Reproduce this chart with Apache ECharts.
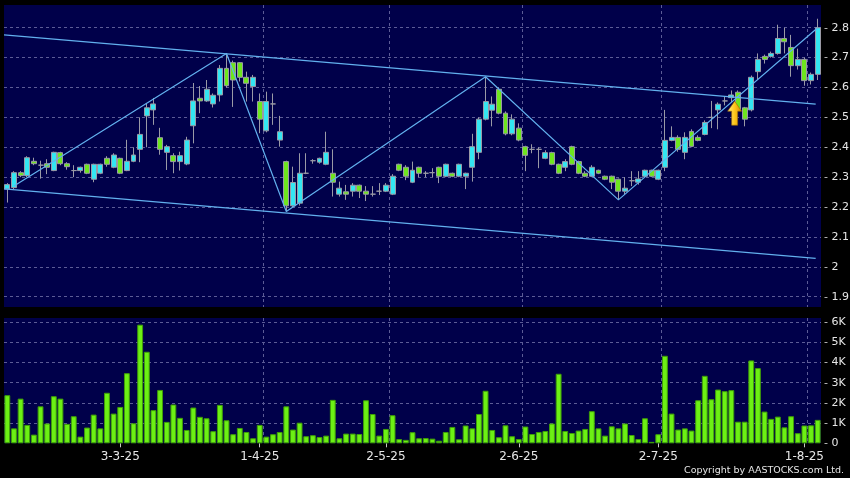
<!DOCTYPE html>
<html><head><meta charset="utf-8">
<script src="https://cdn.jsdelivr.net/npm/echarts@6/dist/echarts.min.js"></script>
<style>html,body{margin:0;padding:0;background:#000;}#c{width:850px;height:478px;}</style>
</head><body><div id="c"></div>
<script>
const categories = [
'6-2-25','7-2-25','10-2-25','11-2-25','12-2-25','13-2-25','14-2-25','17-2-25','18-2-25','19-2-25','20-2-25','21-2-25','24-2-25','25-2-25','26-2-25','27-2-25','28-2-25',
'3-3-25','4-3-25','5-3-25','6-3-25','7-3-25','10-3-25','11-3-25','12-3-25','13-3-25','14-3-25','17-3-25','18-3-25','19-3-25','20-3-25','21-3-25','24-3-25','25-3-25','26-3-25','27-3-25','28-3-25','31-3-25',
'1-4-25','2-4-25','3-4-25','7-4-25','8-4-25','9-4-25','10-4-25','11-4-25','14-4-25','15-4-25','16-4-25','17-4-25','22-4-25','23-4-25','24-4-25','25-4-25','28-4-25','29-4-25','30-4-25',
'2-5-25','6-5-25','7-5-25','8-5-25','9-5-25','12-5-25','13-5-25','14-5-25','15-5-25','16-5-25','19-5-25','20-5-25','21-5-25','22-5-25','23-5-25','26-5-25','27-5-25','28-5-25','29-5-25','30-5-25',
'2-6-25','3-6-25','4-6-25','5-6-25','6-6-25','9-6-25','10-6-25','11-6-25','12-6-25','13-6-25','16-6-25','17-6-25','18-6-25','19-6-25','20-6-25','23-6-25','24-6-25','25-6-25','26-6-25','27-6-25','30-6-25',
'2-7-25','3-7-25','4-7-25','7-7-25','8-7-25','9-7-25','10-7-25','11-7-25','14-7-25','15-7-25','16-7-25','17-7-25','18-7-25','21-7-25','22-7-25','23-7-25','24-7-25','25-7-25','28-7-25','29-7-25','30-7-25','31-7-25',
'1-8-25','4-8-25','5-8-25'];

// [open, close, low, high]
const candles = [
[2.26,2.275,2.215,2.28],[2.265,2.315,2.26,2.32],[2.315,2.305,2.30,2.32],[2.305,2.365,2.30,2.37],[2.353,2.345,2.34,2.365],
[2.34,2.34,2.295,2.355],[2.345,2.333,2.31,2.36],[2.322,2.383,2.32,2.385],[2.382,2.345,2.34,2.385],[2.345,2.335,2.325,2.35],
[2.322,2.322,2.30,2.34],[2.322,2.333,2.315,2.335],[2.343,2.313,2.31,2.345],[2.293,2.343,2.283,2.345],[2.313,2.343,2.31,2.345],
[2.363,2.343,2.335,2.37],[2.333,2.374,2.33,2.38],[2.363,2.313,2.31,2.365],[2.322,2.353,2.32,2.425],[2.353,2.374,2.35,2.40],
[2.393,2.443,2.35,2.50],[2.505,2.532,2.40,2.548],[2.525,2.545,2.475,2.565],[2.432,2.393,2.375,2.465],[2.383,2.402,2.324,2.408],
[2.372,2.352,2.313,2.38],[2.352,2.372,2.322,2.385],[2.344,2.424,2.34,2.435],[2.472,2.555,2.413,2.615],[2.564,2.555,2.514,2.605],
[2.555,2.594,2.552,2.625],[2.545,2.574,2.533,2.58],[2.575,2.664,2.553,2.675],[2.664,2.606,2.60,2.714],[2.683,2.625,2.535,2.69],
[2.683,2.634,2.62,2.685],[2.634,2.614,2.553,2.653],[2.603,2.634,2.553,2.642],[2.553,2.494,2.447,2.58],[2.455,2.553,2.45,2.586],
[2.545,2.545,2.475,2.58],[2.424,2.452,2.402,2.505],[2.352,2.204,2.185,2.355],[2.204,2.282,2.20,2.335],[2.213,2.313,2.205,2.38],
[2.313,2.313,2.31,2.38],[2.355,2.355,2.345,2.36],[2.350,2.363,2.345,2.365],[2.343,2.383,2.34,2.452],[2.313,2.283,2.235,2.393],
[2.243,2.263,2.235,2.285],[2.251,2.243,2.224,2.274],[2.253,2.273,2.235,2.28],[2.273,2.253,2.23,2.275],[2.253,2.243,2.22,2.27],
[2.243,2.243,2.235,2.27],[2.253,2.253,2.24,2.28],[2.253,2.273,2.25,2.28],[2.243,2.303,2.24,2.31],[2.343,2.323,2.32,2.345],
[2.333,2.303,2.29,2.34],[2.283,2.323,2.28,2.352],[2.333,2.313,2.30,2.335],[2.313,2.313,2.30,2.32],[2.315,2.315,2.30,2.33],
[2.333,2.303,2.28,2.335],[2.303,2.343,2.30,2.345],[2.313,2.303,2.30,2.315],[2.303,2.343,2.30,2.345],[2.303,2.313,2.26,2.315],
[2.333,2.402,2.285,2.445],[2.383,2.494,2.36,2.50],[2.494,2.553,2.49,2.636],[2.524,2.544,2.47,2.57],[2.594,2.514,2.51,2.60],
[2.514,2.445,2.44,2.52],[2.445,2.494,2.44,2.51],[2.464,2.424,2.42,2.48],[2.402,2.373,2.32,2.405],[2.393,2.393,2.38,2.41],
[2.393,2.393,2.33,2.40],[2.363,2.382,2.36,2.39],[2.382,2.343,2.34,2.385],[2.343,2.313,2.31,2.345],[2.333,2.352,2.32,2.36],
[2.402,2.343,2.34,2.405],[2.352,2.313,2.31,2.355],[2.313,2.303,2.30,2.32],[2.303,2.333,2.30,2.34],[2.323,2.313,2.31,2.325],
[2.303,2.293,2.29,2.305],[2.303,2.283,2.26,2.305],[2.293,2.253,2.224,2.295],[2.253,2.263,2.24,2.30],[2.288,2.288,2.27,2.32],
[2.283,2.294,2.275,2.32],[2.303,2.323,2.30,2.325],[2.323,2.303,2.30,2.325],[2.293,2.323,2.29,2.325],[2.333,2.423,2.32,2.525],
[2.423,2.433,2.42,2.47],[2.433,2.393,2.385,2.44],[2.383,2.433,2.36,2.45],[2.453,2.403,2.40,2.46],[2.433,2.423,2.42,2.44],
[2.443,2.483,2.44,2.49],[2.50,2.50,2.464,2.555],[2.525,2.544,2.46,2.55],[2.555,2.555,2.54,2.57],[2.566,2.575,2.55,2.59],
[2.584,2.525,2.52,2.59],[2.532,2.494,2.47,2.535],[2.525,2.634,2.52,2.64],[2.653,2.694,2.625,2.714],[2.704,2.694,2.68,2.71],
[2.704,2.714,2.70,2.72],[2.714,2.764,2.71,2.81],[2.764,2.753,2.714,2.80],[2.734,2.673,2.636,2.776],[2.673,2.694,2.66,2.73],
[2.694,2.623,2.606,2.70],[2.623,2.644,2.61,2.65],[2.644,2.80,2.625,2.83]];

const volumes = [
2380,740,2210,910,430,1830,980,2330,2210,960,1340,330,780,1420,740,2500,1470,1800,3470,990,
5870,4530,1640,2640,1060,1920,1260,660,1770,1310,1240,600,1900,1140,450,760,560,250,910,330,
450,560,1830,680,1020,350,400,310,380,2150,250,480,480,460,2130,1450,380,710,1390,210,
170,550,250,260,230,130,560,810,200,880,740,1450,2600,660,300,890,350,210,830,460,
560,610,980,3440,610,510,630,710,1590,740,380,840,740,980,410,210,1240,70,450,4330,
1470,680,740,630,2130,3340,2180,2660,2580,2630,1070,1070,4100,3720,1570,1210,1320,790,1340,500,
880,890,1160];

const tickLabels = ['3-3-25','1-4-25','2-5-25','2-6-25','2-7-25','1-8-25'];
// price axis: visible range and labelled tick range
const priceRange = [1.8655, 2.876];
const priceTickRange = [1.9, 2.8];
const priceStep = 0.1;
// volume axis
const volumeRange = [0, 6200];
const volumeTickRange = [0, 6000];
const volumeStep = 1000;
// trend lines, x in bar-index units
const upperChannel = [[-0.5,2.776],[121.7,2.5444]];
const lowerChannel = [[-0.5,2.261],[121.7,2.0284]];
const zigzag = [[1,2.27],[33,2.714],[42,2.185],[72,2.636],[92,2.224],[122,2.80]];
const signalPoint = [[109.5,2.514]];

const labelIdx = new Set(tickLabels.map(t => categories.indexOf(t)));
const txt = '#e6e6e6', tickCol = '#c8c8c8', gridCol = '#5c5c96', navy = '#00004a';
const lineCol = '#62b0ee';
const FONT = 'DejaVu Sans';

// panel layout (pixels)
const L = 4, R = 29;
const P = {top:5, height:302};
const V = {top:318, height:125.3};
// sub-grid spanning exactly the labelled tick range, so ticks land on round values
function subGrid(panel, range, tickRange) {
  const span = range[1] - range[0];
  const top = panel.top + (range[1] - tickRange[1]) / span * panel.height;
  const height = (tickRange[1] - tickRange[0]) / span * panel.height;
  return {left:L, right:R, top, height, show:false, outerBoundsMode:'none'};
}

const splitLineCat = {show:true, interval:(i)=>labelIdx.has(i-1), showMinLine:false, showMaxLine:false,
  lineStyle:{color:gridCol, type:[3,3], width:1}};
const hid = {show:false, axisLine:{show:false}, axisTick:{show:false}, axisLabel:{show:false}, splitLine:{show:false}};
// right-hand labels carry a short grey tick dash before the value
const tickRich = {t:{color:tickCol, fontSize:11, fontFamily:FONT}};

const chart = echarts.init(document.getElementById('c'), null, {renderer:'canvas'});
chart.setOption({
  animation:false,
  backgroundColor:'#000',
  grid:[
    {left:L, right:R, top:P.top, height:P.height, show:true, backgroundColor:navy, borderWidth:0, outerBoundsMode:'none'},
    subGrid(P, priceRange, priceTickRange),
    {left:L, right:R, top:V.top, height:V.height, show:true, backgroundColor:navy, borderWidth:0, outerBoundsMode:'none'},
    subGrid(V, volumeRange, volumeTickRange)
  ],
  xAxis:[
    {type:'category', gridIndex:0, data:categories, boundaryGap:true,
     axisLine:{show:false}, axisTick:{show:false}, axisLabel:{show:false}, splitLine:splitLineCat},
    Object.assign({type:'value', gridIndex:0, min:-0.5, max:categories.length-0.5}, hid),
    Object.assign({type:'value', gridIndex:1, min:0, max:1}, hid),
    {type:'category', gridIndex:2, data:categories, boundaryGap:true, offset:3,
     axisLine:{show:false},
     axisTick:{show:true, alignWithLabel:true, length:4, interval:(i)=>labelIdx.has(i), lineStyle:{color:tickCol}},
     axisLabel:{show:true, interval:(i)=>labelIdx.has(i), color:txt, fontSize:12, fontFamily:FONT, margin:5, hideOverlap:false},
     splitLine:splitLineCat},
    Object.assign({type:'value', gridIndex:3, min:0, max:1}, hid)
  ],
  yAxis:[
    Object.assign({type:'value', gridIndex:0, min:priceRange[0], max:priceRange[1]}, hid),
    {type:'value', gridIndex:1, position:'right', min:priceTickRange[0], max:priceTickRange[1], interval:priceStep, offset:3,
     axisLine:{show:false}, axisTick:{show:false},
     axisLabel:{show:true, margin:0, color:txt, fontSize:11, fontFamily:FONT, showMinLabel:true, showMaxLabel:true, rich:tickRich,
       formatter:(v)=>'{t|-} ' + String(+(+v).toFixed(1))},
     splitLine:{show:true, lineStyle:{color:gridCol, type:[3,3], width:1}}},
    Object.assign({type:'value', gridIndex:2, min:volumeRange[0], max:volumeRange[1]}, hid),
    {type:'value', gridIndex:3, position:'right', min:volumeTickRange[0], max:volumeTickRange[1], interval:volumeStep, offset:3,
     axisLine:{show:false}, axisTick:{show:false},
     axisLabel:{show:true, margin:0, color:txt, fontSize:11, fontFamily:FONT, showMinLabel:true, showMaxLabel:true, rich:tickRich,
       formatter:(v)=>'{t|-} ' + (v===0 ? '0' : (v/1000)+'K')},
     splitLine:{show:true, showMinLine:false, lineStyle:{color:gridCol, type:[3,3], width:1}}}
  ],
  series:[
    {type:'candlestick', xAxisIndex:0, yAxisIndex:0, data:candles, barWidth:'82%',
     itemStyle:{color:'#33e6f2', color0:'#6ee61e', borderColor:'#9a9aa6', borderColor0:'#9a9aa6', borderWidth:1}},
    {type:'line', xAxisIndex:1, yAxisIndex:0, data:upperChannel, symbol:'none', lineStyle:{color:lineCol, width:1.2}, z:5},
    {type:'line', xAxisIndex:1, yAxisIndex:0, data:lowerChannel, symbol:'none', lineStyle:{color:lineCol, width:1.2}, z:5},
    {type:'line', xAxisIndex:1, yAxisIndex:0, data:zigzag, symbol:'none', lineStyle:{color:lineCol, width:1.2}, z:5},
    {type:'scatter', xAxisIndex:1, yAxisIndex:0, data:signalPoint, z:10,
     symbol:'path://M7,0 L14,10 L10,10 L10,24 L4,24 L4,10 L0,10 Z', symbolSize:[14,24], symbolKeepAspect:false,
     itemStyle:{color:new echarts.graphic.LinearGradient(0,0,1,0,[{offset:0,color:'#fff08a'},{offset:0.5,color:'#ffc61a'},{offset:1,color:'#d08a00'}]),
       borderColor:'#a06a00', borderWidth:0.6, opacity:1}},
    {type:'bar', xAxisIndex:3, yAxisIndex:2, data:volumes, barWidth:'88%',
     itemStyle:{color:'#6cf014', borderColor:'#3f9e08', borderWidth:1}}
  ],
  graphic:[
    {type:'text', right:6, top:466, style:{text:'Copyright by AASTOCKS.com Ltd.', fill:txt, font:'9.5px "DejaVu Sans"'}}
  ]
});
</script></body></html>
